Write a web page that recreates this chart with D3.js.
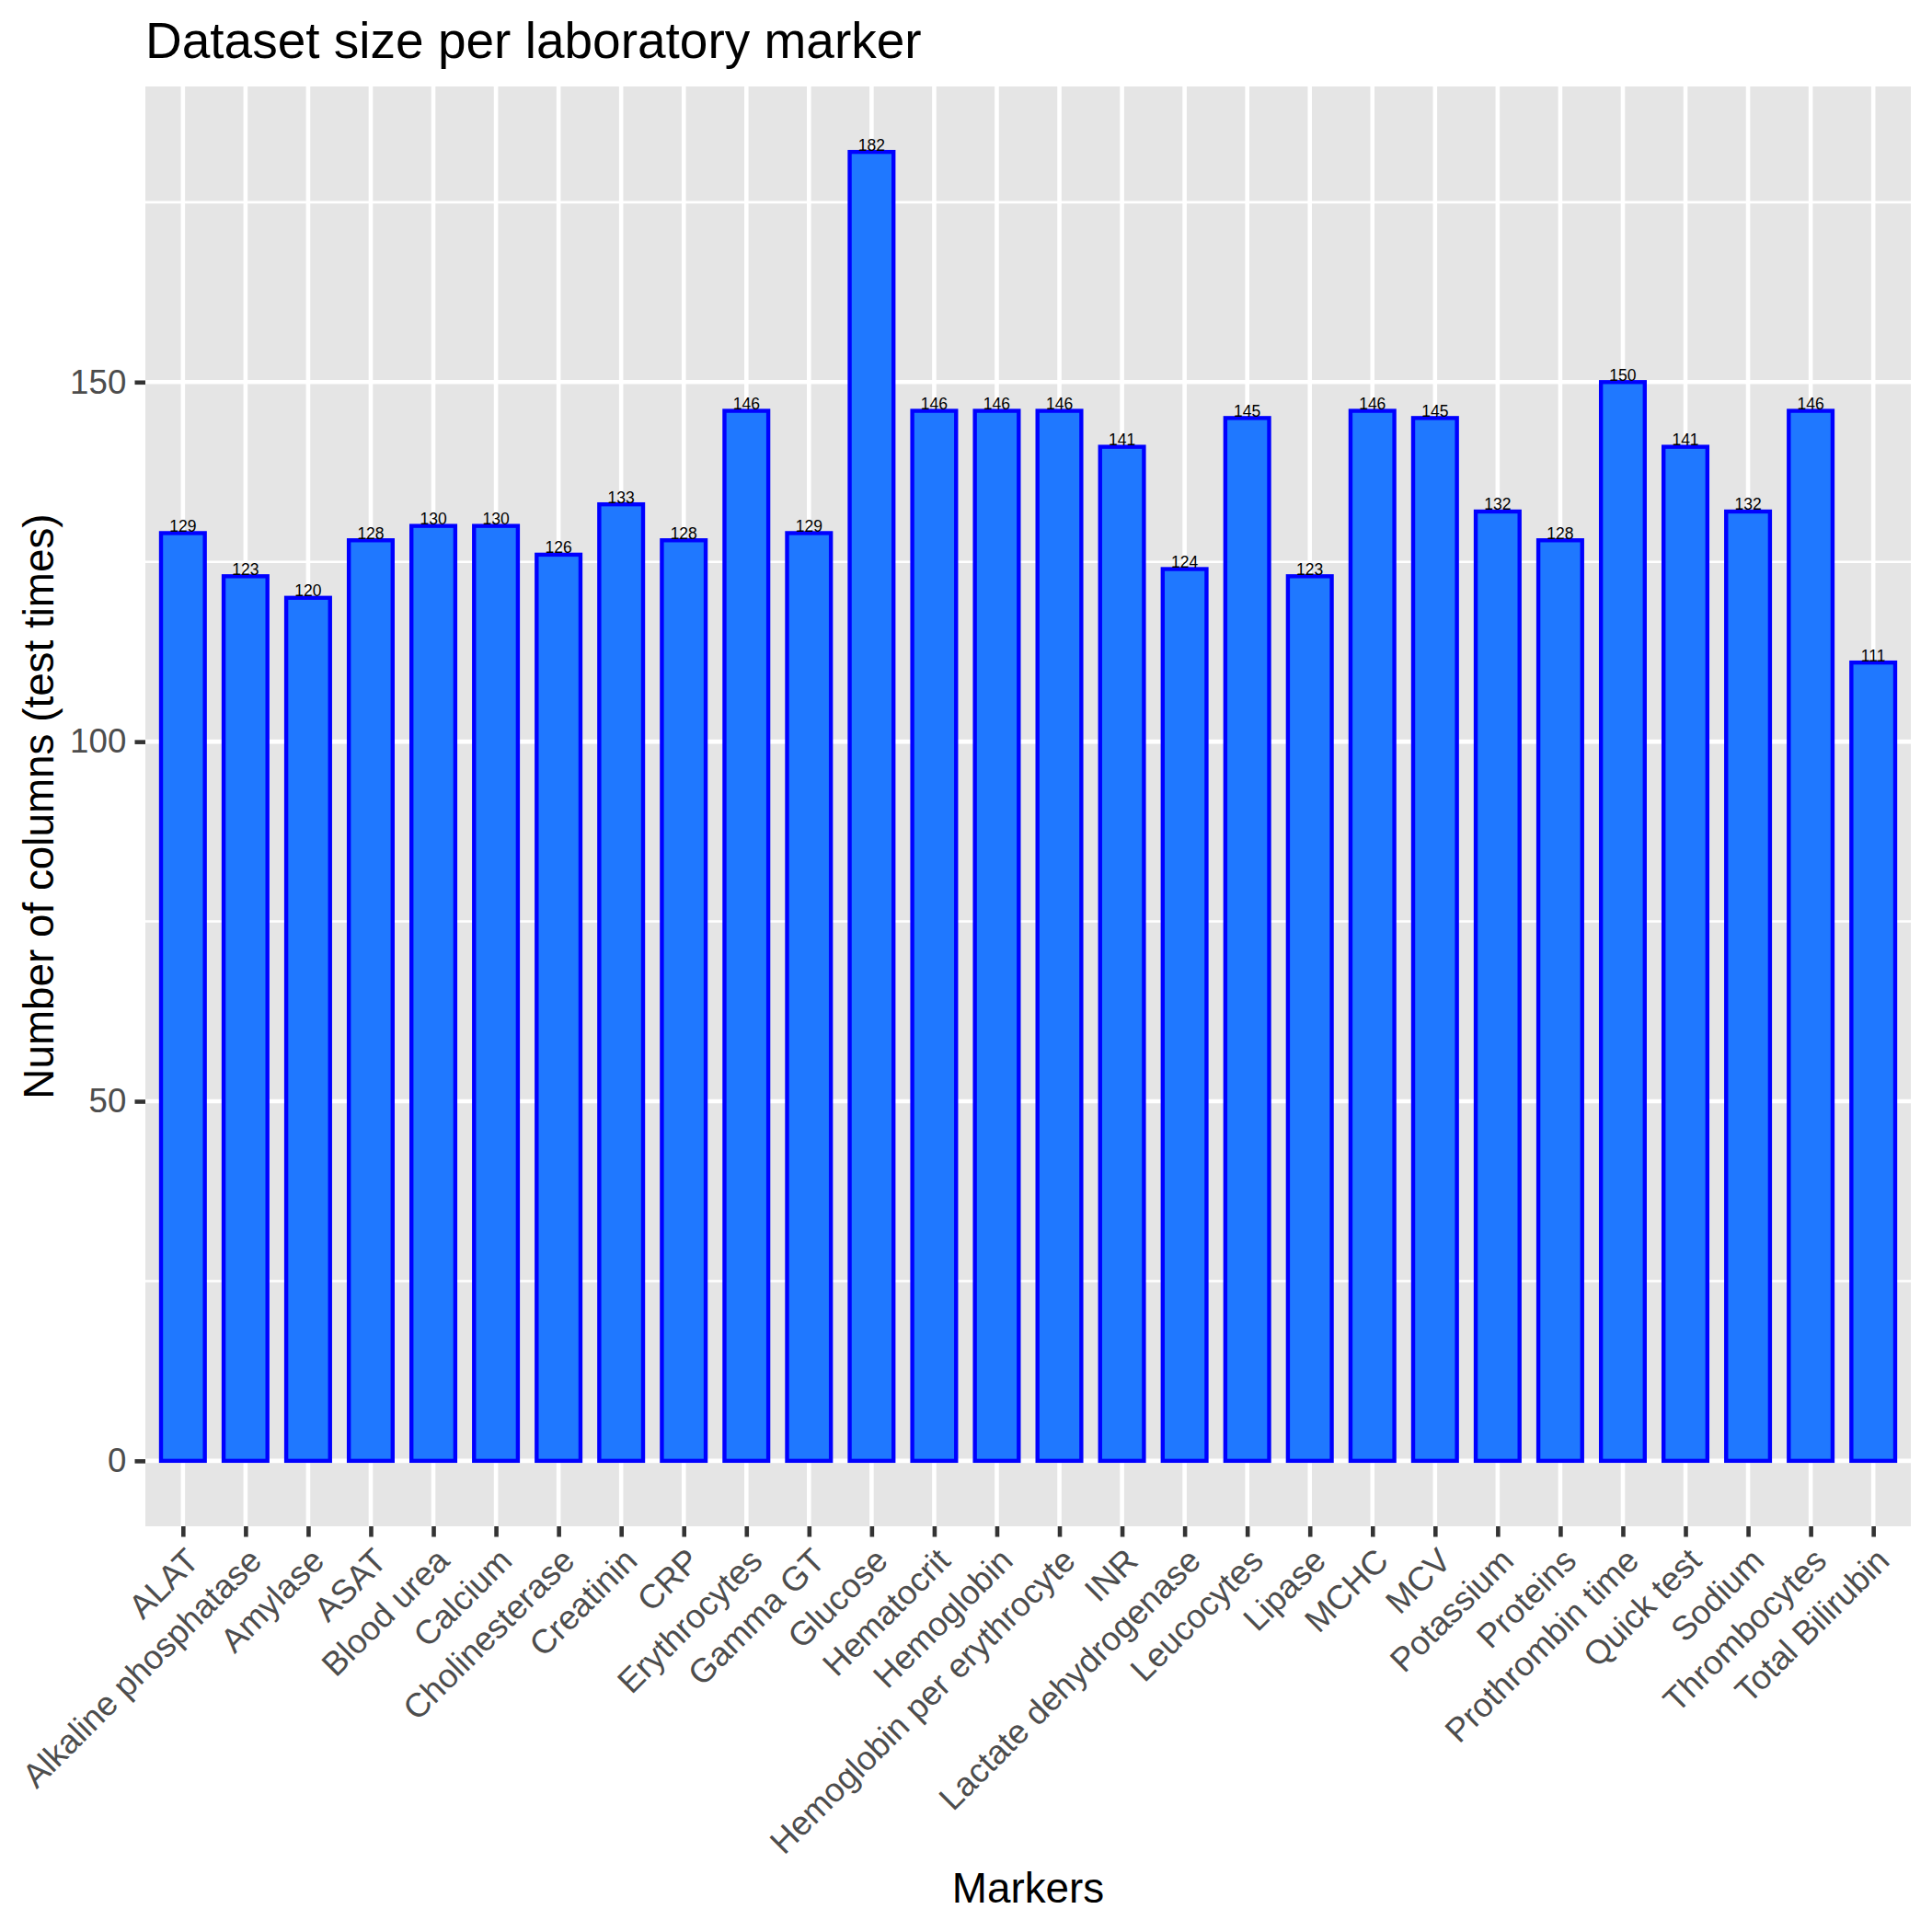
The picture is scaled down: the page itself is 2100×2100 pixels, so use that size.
<!DOCTYPE html>
<html>
<head>
<meta charset="utf-8">
<script src="https://cdn.jsdelivr.net/npm/d3@7"></script>
<style>
  body { margin: 0; background: #fff; }
  text { font-family: "Liberation Sans", Arial, Helvetica, sans-serif; }
</style>
</head>
<body>
<svg id="chart" width="2100" height="2100"></svg>
<script>
// data
var markers = ["ALAT", "Alkaline phosphatase", "Amylase", "ASAT", "Blood urea", "Calcium",
  "Cholinesterase", "Creatinin", "CRP", "Erythrocytes", "Gamma GT", "Glucose", "Hematocrit",
  "Hemoglobin", "Hemoglobin per erythrocyte", "INR", "Lactate dehydrogenase", "Leucocytes",
  "Lipase", "MCHC", "MCV", "Potassium", "Proteins", "Prothrombin time", "Quick test",
  "Sodium", "Thrombocytes", "Total Bilirubin"];
var counts = [129, 123, 120, 128, 130, 130, 126, 133, 128, 146, 129, 182, 146,
  146, 146, 141, 124, 145, 123, 146, 145, 132, 128, 150, 141, 132, 146, 111];
var yTicks = [0, 50, 100, 150];
var yMinor = [25, 75, 125, 175];

var title = "Dataset size per laboratory marker";
var xTitle = "Markers";
var yTitle = "Number of columns (test times)";

var W = 2100, H = 2100;
var panel = {left: 158, right: 2077, top: 94, bottom: 1659};
var tickLen = 11.5, gridW = 4.6;

var svg = d3.select("#chart");

var ymax = d3.max(counts);
var pad = ymax * 0.05;
var y = d3.scaleLinear().domain([-pad, ymax + pad]).range([panel.bottom, panel.top]);
var x = d3.scalePoint().domain(markers).range([panel.left, panel.right]).padding(0.6);
var barW = x.step() * 0.7;

// panel background
svg.append("rect")
  .attr("x", panel.left).attr("y", panel.top)
  .attr("width", panel.right - panel.left).attr("height", panel.bottom - panel.top)
  .attr("fill", "#E5E5E5");

// grid lines
svg.append("g").selectAll("line").data(yMinor).enter().append("line")
  .attr("x1", panel.left).attr("x2", panel.right)
  .attr("y1", function(d){ return y(d); }).attr("y2", function(d){ return y(d); })
  .attr("stroke", "#fff").attr("stroke-width", 2.6);
svg.append("g").selectAll("line").data(yTicks).enter().append("line")
  .attr("x1", panel.left).attr("x2", panel.right)
  .attr("y1", function(d){ return y(d); }).attr("y2", function(d){ return y(d); })
  .attr("stroke", "#fff").attr("stroke-width", gridW);
svg.append("g").selectAll("line").data(markers).enter().append("line")
  .attr("y1", panel.top).attr("y2", panel.bottom)
  .attr("x1", function(d){ return x(d); }).attr("x2", function(d){ return x(d); })
  .attr("stroke", "#fff").attr("stroke-width", gridW);

// bars
var data = markers.map(function(m, i){ return {name: m, value: counts[i]}; });
svg.append("g").selectAll("rect").data(data).enter().append("rect")
  .attr("x", function(d){ return x(d.name) - barW / 2; })
  .attr("y", function(d){ return y(d.value); })
  .attr("width", barW)
  .attr("height", function(d){ return y(0) - y(d.value); })
  .attr("fill", "#1F78FF")
  .attr("stroke", "#0000FF")
  .attr("stroke-width", 4.4);

// value labels
svg.append("g").selectAll("text").data(data).enter().append("text")
  .attr("x", function(d){ return x(d.name); })
  .attr("y", function(d){ return y(d.value) - 1.5; })
  .attr("text-anchor", "middle")
  .attr("font-size", 17.5)
  .attr("fill", "#000")
  .text(function(d){ return d.value; });

// y axis
var yAxis = d3.axisLeft(y).tickValues(yTicks).tickSize(tickLen).tickPadding(9.2);
var gy = svg.append("g").attr("transform", "translate(" + panel.left + ",0)").call(yAxis);
gy.select(".domain").remove();
gy.selectAll(".tick line").attr("stroke", "#333333").attr("stroke-width", gridW);
gy.selectAll(".tick text")
  .attr("font-size", 36.7).attr("fill", "#4D4D4D")
  .attr("font-family", "Liberation Sans, Arial, sans-serif");

// x axis
var xAxis = d3.axisBottom(x).tickSize(tickLen).tickSizeOuter(0);
var gx = svg.append("g").attr("transform", "translate(0," + panel.bottom + ")").call(xAxis);
gx.select(".domain").remove();
gx.selectAll(".tick line").attr("stroke", "#333333").attr("stroke-width", gridW);
gx.selectAll(".tick text")
  .attr("font-size", 36.7).attr("fill", "#4D4D4D")
  .attr("font-family", "Liberation Sans, Arial, sans-serif")
  .attr("text-anchor", "end")
  .attr("y", 0).attr("dy", "0.73em")
  .attr("transform", "translate(0," + (tickLen + 9.2) + ") rotate(-45)");

// titles
svg.append("text")
  .attr("x", panel.left).attr("y", 63)
  .attr("font-size", 55).attr("fill", "#000")
  .text(title);

svg.append("text")
  .attr("x", (panel.left + panel.right) / 2).attr("y", 2068)
  .attr("text-anchor", "middle")
  .attr("font-size", 45.8).attr("fill", "#000")
  .text(xTitle);

svg.append("text")
  .attr("transform", "translate(23," + (panel.top + panel.bottom) / 2 + ") rotate(-90)")
  .attr("dy", "0.76em")
  .attr("text-anchor", "middle")
  .attr("font-size", 45.8).attr("fill", "#000")
  .text(yTitle);
</script>
</body>
</html>
